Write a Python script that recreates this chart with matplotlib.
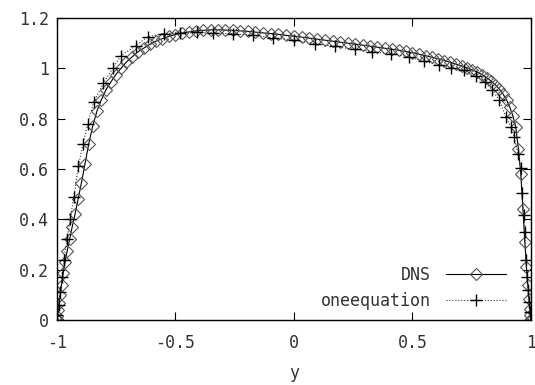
import matplotlib
matplotlib.use("Agg")
import matplotlib.pyplot as plt

# DNS profile (diamonds)
y_dns = [-1.0, -0.9995, -0.9979, -0.9952, -0.9914, -0.9866, -0.9808, -0.9739, -0.9659,
         -0.9569, -0.9469, -0.9359, -0.9239, -0.9109, -0.8969, -0.8819, -0.8660, -0.8492,
         -0.8315, -0.8128, -0.7934, -0.7730, -0.7518, -0.7299, -0.7071, -0.6836, -0.6593,
         -0.6344, -0.6088, -0.5825, -0.5556, -0.5281, -0.5, -0.4714, -0.4423, -0.4128,
         -0.3827, -0.3522, -0.3214, -0.2903, -0.2588, -0.2271, -0.1951, -0.1629, -0.1305,
         -0.0980, -0.0654, -0.0327, 0.0,
         0.0327, 0.0654, 0.0980, 0.1305, 0.1629, 0.1951, 0.2271, 0.2588, 0.2903, 0.3214,
         0.3522, 0.3827, 0.4128, 0.4423, 0.4714, 0.5, 0.5281, 0.5556, 0.5825, 0.6088,
         0.6344, 0.6593, 0.6836, 0.7071, 0.7299, 0.7518, 0.7730, 0.7934, 0.8128, 0.8315,
         0.8492, 0.8660, 0.8819, 0.8969, 0.9109, 0.9239, 0.9359, 0.9469, 0.9569, 0.9659,
         0.9739, 0.9808, 0.9866, 0.9914, 0.9952, 0.9979, 0.9995, 1.0]
u_dns = [0.0, 0.004, 0.017, 0.038, 0.066, 0.10, 0.14, 0.185, 0.23,
         0.275, 0.32, 0.37, 0.42, 0.48, 0.545, 0.62, 0.70, 0.77,
         0.83, 0.875, 0.915, 0.945, 0.975, 1.0, 1.025, 1.045, 1.065,
         1.08, 1.095, 1.108, 1.118, 1.127, 1.134, 1.140, 1.145, 1.149,
         1.151, 1.153, 1.153, 1.152, 1.151, 1.149, 1.147, 1.144, 1.141,
         1.138, 1.135, 1.131, 1.128,
         1.124, 1.120, 1.116, 1.112, 1.108, 1.104, 1.100, 1.096, 1.092, 1.088,
         1.084, 1.080, 1.076, 1.072, 1.067, 1.062, 1.056, 1.050, 1.044, 1.038,
         1.031, 1.024, 1.017, 1.010, 1.002, 0.994, 0.985, 0.975, 0.963, 0.950,
         0.935, 0.918, 0.898, 0.875, 0.845, 0.81, 0.765, 0.68, 0.58, 0.44,
         0.31, 0.21, 0.14, 0.085, 0.045, 0.02, 0.005, 0.0]

# one-equation model (plus markers)
y_one = [-1.0, -0.998, -0.993, -0.986, -0.978, -0.970, -0.958, -0.944, -0.929, -0.910,
         -0.890, -0.870, -0.845, -0.805, -0.765, -0.730, -0.668, -0.618, -0.550, -0.480,
         -0.410, -0.340, -0.256, -0.172, -0.088, 0.0, 0.088, 0.172, 0.256, 0.330,
         0.410, 0.487, 0.550, 0.613, 0.664, 0.718, 0.770, 0.806, 0.836, 0.866,
         0.895, 0.916, 0.929, 0.945, 0.958, 0.962, 0.970, 0.975, 0.979, 0.983,
         0.987, 0.990, 0.995, 1.0]
u_one = [0.0, 0.02, 0.06, 0.11, 0.17, 0.24, 0.32, 0.40, 0.49, 0.61,
         0.70, 0.78, 0.866, 0.94, 1.0, 1.05, 1.09, 1.125, 1.138, 1.142,
         1.143, 1.141, 1.137, 1.132, 1.12, 1.112, 1.098, 1.087, 1.075, 1.066,
         1.058, 1.045, 1.028, 1.012, 1.002, 0.993, 0.97, 0.945, 0.914, 0.874,
         0.805, 0.767, 0.727, 0.66, 0.604, 0.505, 0.417, 0.35, 0.24, 0.17,
         0.12, 0.07, 0.03, 0.0]

x_ticks = [-1, -0.5, 0, 0.5, 1]
x_labels = ["-1", "-0.5", "0", "0.5", "1"]
y_ticks = [0, 0.2, 0.4, 0.6, 0.8, 1, 1.2]
y_labels = ["0", "0.2", "0.4", "0.6", "0.8", "1", "1.2"]

plt.rcParams['font.family'] = ['DejaVu Sans Mono']

fig = plt.figure(figsize=(5.35, 3.85), dpi=100)
ax = fig.add_axes([0.1065, 0.1688, 0.886, 0.7844])

ax.plot(y_dns, u_dns, color='black', lw=0.8, marker='D', markersize=6.5,
        mfc='none', mec='#555555', mew=0.8, label='DNS')
ax.plot(y_one, u_one, color='#333333', lw=0.8, ls=':', marker='+', markersize=9,
        mec='black', mew=1.0, label='oneequation')

ax.set_xlim(-1, 1)
ax.set_ylim(0, 1.2)
ax.set_xticks(x_ticks)
ax.set_xticklabels(x_labels)
ax.set_yticks(y_ticks)
ax.set_yticklabels(y_labels)
ax.tick_params(direction='in', length=6, width=0.8, top=True, right=True,
               labelsize=12, colors='black', labelcolor='#333333')
ax.tick_params(axis='y', pad=6)
ax.tick_params(axis='x', pad=10)
for s in ax.spines.values():
    s.set_linewidth(1.0)
ax.set_xlabel('y', fontsize=12, color='#333333', labelpad=9)

ax.legend(loc='lower right', bbox_to_anchor=(0.962, 0.012), frameon=False,
          markerfirst=False, numpoints=1, handlelength=3.6, fontsize=12,
          labelcolor='#333333', borderaxespad=0, handletextpad=0.9,
          labelspacing=0.45)

fig.savefig('out.png', dpi=100)
